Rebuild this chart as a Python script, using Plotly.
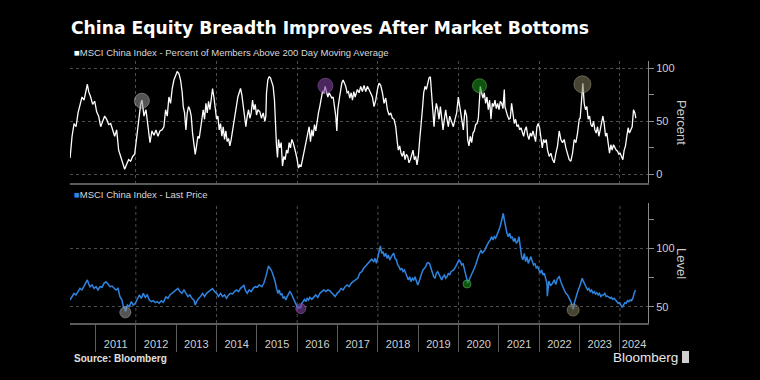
import plotly.graph_objects as go

# ---------------- data (decimal years) ----------------
breadth_year = [
2010.370,2010.419,2010.469,2010.518,2010.567,2010.617,2010.666,2010.716,2010.765,2010.798,2010.831,2010.881,2010.930,2010.980,
2011.029,2011.079,2011.128,2011.178,2011.227,2011.277,2011.326,2011.376,2011.426,2011.475,2011.525,2011.574,2011.624,2011.673,
2011.723,2011.772,2011.822,2011.871,2011.921,2011.971,2012.020,2012.070,2012.119,2012.152,2012.202,2012.251,2012.301,2012.351,
2012.400,2012.450,2012.499,2012.549,2012.598,2012.648,
2012.696,2012.737,2012.779,2012.820,2012.861,2012.902,2012.944,2012.985,2013.026,2013.068,2013.109,2013.150,2013.175,2013.208,
2013.241,2013.274,2013.307,2013.340,2013.373,2013.406,2013.439,2013.472,2013.505,2013.538,2013.571,2013.604,2013.637,2013.670,
2013.703,2013.737,2013.770,2013.803,2013.836,2013.869,2013.902,2013.935,2013.968,2014.001,2014.034,2014.067,2014.100,2014.133,
2014.166,2014.199,2014.232,2014.265,2014.298,2014.331,2014.364,2014.397,2014.430,2014.463,2014.496,2014.529,2014.562,2014.595,
2014.628,2014.661,2014.694,2014.728,2014.761,2014.794,2014.827,2014.860,2014.893,2014.926,2014.959,2014.992,2015.025,
2015.074,2015.115,2015.157,2015.198,2015.223,2015.239,2015.272,2015.305,2015.338,2015.371,2015.404,2015.437,2015.462,2015.487,
2015.512,2015.536,2015.569,2015.603,2015.636,2015.669,2015.702,2015.735,2015.768,2015.801,2015.834,2015.867,2015.900,2015.933,
2015.966,2015.999,2016.032,2016.065,2016.098,2016.131,2016.164,2016.197,2016.230,2016.263,2016.296,2016.329,2016.362,2016.395,
2016.428,2016.461,2016.494,2016.527,2016.560,2016.594,2016.627,2016.660,2016.693,2016.726,2016.759,2016.792,2016.825,2016.858,
2016.891,2016.924,2016.957,2016.982,2017.006,2017.039,2017.072,2017.105,2017.138,2017.171,2017.204,2017.237,2017.270,2017.304,
2017.337,2017.370,2017.403,2017.436,
2017.492,2017.534,2017.575,2017.616,2017.657,2017.699,2017.740,2017.781,2017.823,2017.864,2017.905,2017.947,2017.988,2018.029,
2018.070,2018.112,2018.153,2018.194,2018.236,2018.277,2018.318,2018.359,2018.401,2018.442,2018.483,2018.508,2018.541,2018.574,
2018.607,2018.640,2018.673,2018.706,2018.739,2018.772,2018.805,2018.838,2018.871,2018.904,2018.937,2018.970,2019.003,2019.037,
2019.070,2019.103,2019.136,2019.169,2019.202,2019.235,2019.268,2019.301,2019.334,2019.367,2019.392,2019.417,2019.450,2019.483,
2019.516,2019.549,2019.582,2019.615,2019.648,2019.681,2019.714,2019.747,2019.780,2019.813,
2019.870,2019.912,2019.953,2019.994,2020.035,2020.077,2020.118,2020.159,2020.201,2020.225,2020.258,2020.291,2020.325,2020.358,
2020.391,2020.424,2020.457,2020.490,2020.506,2020.523,2020.539,2020.572,2020.605,2020.638,2020.671,2020.704,2020.737,2020.770,
2020.803,2020.836,2020.870,2020.903,2020.936,2020.969,2021.002,2021.035,2021.068,2021.101,2021.134,2021.150,2021.183,2021.216,
2021.249,2021.282,2021.315,2021.348,2021.381,2021.415,2021.448,2021.481,2021.514,2021.547,2021.580,2021.613,2021.646,2021.679,
2021.712,2021.745,2021.778,2021.811,2021.844,2021.877,2021.910,2021.943,2021.976,2022.009,2022.042,2022.075,2022.108,2022.141,
2022.174,
2022.206,2022.247,2022.289,2022.330,2022.371,2022.412,2022.454,2022.495,2022.536,2022.578,2022.619,2022.660,2022.702,2022.743,
2022.784,2022.825,2022.867,2022.908,2022.949,2022.991,2023.015,2023.048,2023.081,2023.114,2023.147,2023.180,2023.213,2023.246,
2023.280,2023.313,2023.346,2023.379,2023.412,2023.445,2023.478,2023.511,2023.544,2023.577,2023.610,2023.643,2023.676,2023.709,
2023.742,2023.775,2023.808,2023.841,2023.874,2023.907,2023.940,2023.973,2024.006,2024.039,2024.072,2024.105,2024.138,2024.171,
2024.204,2024.237,2024.270,2024.303,2024.337,2024.370,2024.395]

breadth_pct = [
15.6,36,48,45,58,67,73,70,81,85,78,73,66,69,
59,55,45,50,55,52,47,48,41,36,42,23,17,11,
5,9.7,14,12.5,17,19,33,52,66,70,55,61,45,30,
41,37,42,36,41,42,
45,61,55,73,67,81,89,94,97,95,89,77,64,58,
42,58,64,61,55,39,30,19,27,36,34,45,52,61,
52,67,58,69,61,73,81,73,61,52,55,42,48,36,
45,33,41,31,34,27,33,42,48,55,64,73,77,81,
75,64,58,45,55,61,53,58,70,61,66,56,61,
59,53,58,50,55,77,89,92,91,87,83,70,45,27,
16,33,25,30,8,17,14,23,20,30,25,33,30,23,
20,14,6,9,8,14,20,27,30,39,45,31,42,36,
47,41,52,58,64,73,78,77,83,78,73,77,75,72,
73,64,55,41,61,70,80,86,89,86,83,77,78,72,
77,70,78,73,
80,77,83,78,84,78,83,80,77,73,64,70,80,86,
84,77,67,72,61,56,58,53,52,45,30,23,27,20,
17,22,14,19,17,11,14,20,23,14,17,9,17,33,
45,61,77,83,80,86,91,92,77,61,45,58,67,61,
52,64,55,42,52,61,52,45,55,52,
45,52,58,73,64,52,42,61,55,33,27,36,30,39,
41,47,48,53,67,78,83,77,72,77,67,73,61,70,
52,67,64,70,62,67,61,69,67,62,80,64,58,55,
52,53,67,55,48,52,45,47,42,44,39,36,42,45,
37,33,39,36,41,34,31,45,48,44,36,25,33,30,
33,
23,17,20,14,11,20,27,41,33,30,33,25,20,14,
12.5,20,33,30,39,52,53,67,86,67,61,64,52,55,
47,45,50,42,39,45,36,42,48,55,48,36,39,30,
20,28,23,28,25,23,22,19,20,17,14,23,27,36,
44,39,42,45,61,58,53]

price_year = [
2010.369,2010.418,2010.468,2010.517,2010.567,2010.616,2010.666,2010.715,2010.765,2010.798,2010.831,2010.864,2010.914,2010.963,
2011.013,2011.062,2011.112,2011.161,2011.211,2011.260,2011.310,2011.359,2011.409,2011.459,2011.508,2011.558,2011.607,2011.657,
2011.690,2011.723,2011.748,2011.789,2011.838,2011.888,2011.937,2011.987,2012.037,2012.086,2012.136,2012.185,2012.235,2012.284,
2012.334,2012.383,2012.433,2012.483,2012.532,2012.582,2012.631,2012.681,2012.746,2012.795,2012.845,2012.894,2012.944,2012.993,
2013.043,2013.092,2013.142,2013.192,2013.241,2013.291,2013.340,2013.390,2013.439,2013.472,2013.505,2013.555,2013.604,2013.654,
2013.703,2013.753,2013.803,2013.852,2013.902,2013.951,2014.001,2014.050,2014.100,2014.149,2014.199,2014.249,2014.298,2014.348,
2014.397,2014.447,2014.496,2014.546,2014.595,2014.645,2014.678,2014.711,2014.761,2014.810,2014.860,2014.909,2014.959,2015.008,
2015.058,2015.124,2015.173,2015.223,2015.256,2015.289,2015.322,2015.355,2015.388,2015.421,2015.454,2015.487,2015.520,2015.553,
2015.586,2015.619,2015.652,2015.685,2015.718,2015.751,2015.784,2015.817,2015.850,2015.883,2015.916,2015.949,2015.982,2016.015,
2016.048,2016.081,2016.115,2016.148,2016.181,2016.214,2016.247,2016.280,2016.313,2016.362,2016.412,2016.461,2016.511,2016.560,
2016.610,2016.660,2016.709,2016.759,2016.808,2016.858,2016.891,2016.940,2016.990,2017.039,2017.089,2017.138,2017.188,2017.238,
2017.287,2017.337,2017.386,2017.436,2017.501,2017.550,2017.600,2017.649,2017.699,2017.748,2017.798,2017.847,2017.897,2017.930,
2017.963,2017.996,2018.029,2018.062,2018.095,2018.128,2018.161,2018.194,2018.227,2018.260,2018.293,2018.326,2018.359,2018.392,
2018.426,2018.459,2018.492,2018.525,2018.558,2018.591,2018.624,2018.657,2018.690,2018.723,2018.756,2018.789,2018.822,2018.855,
2018.888,2018.921,2018.954,2018.987,2019.020,2019.053,2019.086,2019.119,2019.152,2019.185,2019.218,2019.251,2019.284,2019.317,
2019.350,2019.383,2019.417,2019.450,2019.483,2019.516,2019.549,2019.582,2019.615,2019.648,2019.681,2019.714,2019.747,2019.780,
2019.813,2019.879,2019.928,2019.978,2020.011,2020.044,2020.077,2020.110,2020.143,2020.176,2020.209,2020.225,2020.258,2020.291,
2020.325,2020.358,2020.391,2020.424,2020.457,2020.490,2020.523,2020.556,2020.589,2020.622,2020.655,2020.688,2020.721,2020.754,
2020.787,2020.820,2020.853,2020.886,2020.919,2020.952,2020.985,2021.018,2021.051,2021.084,2021.109,2021.134,2021.167,2021.200,
2021.233,2021.266,2021.299,2021.332,2021.365,2021.398,2021.431,2021.464,2021.497,2021.530,2021.563,2021.596,2021.629,2021.662,
2021.695,2021.728,2021.761,2021.794,2021.828,2021.861,2021.894,2021.927,2021.960,2021.993,2022.026,2022.059,2022.092,2022.125,
2022.158,2022.191,2022.200,2022.215,2022.240,2022.280,2022.330,2022.370,2022.410,2022.450,2022.495,2022.536,2022.578,2022.619,
2022.660,2022.702,2022.743,2022.784,2022.817,2022.842,2022.867,2022.900,2022.933,2022.966,2022.999,2023.032,2023.065,2023.098,
2023.131,2023.164,2023.197,2023.230,2023.263,2023.296,2023.329,2023.362,2023.395,2023.428,2023.461,2023.494,2023.527,2023.560,
2023.593,2023.626,2023.659,2023.692,2023.725,2023.758,2023.791,2023.825,2023.858,2023.891,2023.924,2023.957,2023.990,2024.023,
2024.056,2024.089,2024.122,2024.155,2024.188,2024.221,2024.254,2024.287,2024.320,2024.353,2024.386]

price_level = [
55.7,58.6,61.4,60,62.9,65.7,64.3,67.1,70,72.9,69.4,67.1,68.6,65.7,
67.1,64.3,67.1,66.6,70,71.4,69.4,67.1,67.7,65.7,64.3,65.7,58.6,55.7,
50,48.6,46,51.4,50,54.3,51.4,52.9,57.1,60,57.1,61.4,58,60,
55.7,54.3,55.1,53.4,54.3,52.9,55.1,53.7,58.3,57.1,60,61.4,62.9,64.3,
65.7,62.9,61.4,64.3,61.4,58.6,60,57.1,55.7,51.4,54.3,57.1,58.6,61.4,
58.6,61.4,62.9,64.3,65.4,62.9,61.4,58.6,61.4,58.6,60,57.1,60,61.4,
60.9,62.9,64.3,62.9,65.7,67.1,68.6,64.3,61.4,64.3,62.9,65.7,67.1,66.6,
68.6,67.1,70,75.7,81.4,84.9,82.9,81.4,78.6,75.7,71.4,65.7,61.4,64.3,
60,61.4,57.1,58.6,55.7,58.6,61.4,62.9,61.4,58.6,55.7,54.3,51.4,48.6,
50,48.6,52.9,54.3,56.3,54.3,57.1,55.7,58,56.3,58.6,60,58,61.4,
62.9,64.3,62.9,64.3,63.7,61.4,60,58.6,61.4,62.9,65.7,64.3,67.1,68.6,
67.1,70,71.4,72.9,74.3,78.6,80,82.9,84.9,87.1,88.6,90.6,88.6,91.4,
87.1,92.9,98.6,102,95.7,97.1,92.9,95.7,91.4,94.3,90,92.9,94.3,95.7,
91.4,90,85.7,84.3,81.4,82.9,80,81.4,78.6,77.1,72.9,75.7,71.4,74.3,
72.9,75.7,71.4,68.6,71.4,75.7,78.6,81.4,82.9,84.3,87.1,87.7,86.6,82.9,
78.6,75.7,74.3,78.6,80,77.1,75.7,72.9,75.7,77.1,74.3,75.7,78.6,77.1,
80,81.4,84.3,87.1,90,88.6,85.7,87.1,82.9,78.6,72.9,70,72.9,75.7,
78.6,80,82.9,85.7,90,92.9,95.7,98.6,95.7,97.1,98.6,101.4,104.3,105.7,
107.1,110,107.1,110,108.6,111.4,112.9,117.1,121.4,127.1,130,124.3,117.1,112.9,
110,112.9,108.6,110,105.7,108.6,104.3,105.7,110,101.4,92.9,90,95.7,88.6,
92.9,87.1,90,92.9,88.6,85.7,87.1,82.9,84.3,81.4,78.6,81.4,77.1,78.6,
74.3,70,59,66,72,68,70,73,69,74,75.7,71.4,67.1,64.3,
61.4,60,57.1,54.3,50,47.7,52.9,57.1,61.4,64.3,67.1,71.4,74.3,71.4,
68.6,67.1,64.3,65.7,62.9,64.3,61.4,62.9,60.9,62,60,61.4,58.6,60,
60,61.4,58.6,59.1,58,57.1,58,56.3,57.1,55.7,54.3,52.9,53.4,51.4,
49.4,51.4,53.4,52.9,55.1,54.3,55.7,55.1,57.1,61.4,64.3]

# market-bottom markers
top_event_year = [2012.15, 2016.70, 2020.52, 2023.07]
top_event_pct = [69.5, 83.6, 83.6, 84.9]
bottom_event_year = [2011.74, 2016.09, 2020.21, 2022.84]
bottom_event_level = [45.1, 48.3, 69.4, 47.1]

year_labels = ["2011", "2012", "2013", "2014", "2015", "2016", "2017",
               "2018", "2019", "2020", "2021", "2022", "2023", "2024"]
year_label_pos = [2011.5, 2012.5, 2013.5, 2014.5, 2015.5, 2016.5, 2017.5,
                  2018.5, 2019.5, 2020.5, 2021.5, 2022.5, 2023.5, 2024.35]
year_ticks = list(range(2011, 2025))
grid_years = list(range(2012, 2025, 2))

# ---------------- style ----------------
FONT = "Liberation Sans, Arial, sans-serif"
TITLE_FONT = "DejaVu Sans, Liberation Sans, sans-serif"
GRID = "#4d4d4d"
AXIS = "#8a8a8a"
BASE = "#5c5c5c"
TICKTXT = "#cfcfcf"
X_RANGE = [2010.368, 2024.696]

event_fill = ["rgba(150,150,150,0.80)", "rgba(125,65,155,0.85)",
              "rgba(25,140,25,0.85)", "rgba(128,123,92,0.80)"]
event_edge = ["rgba(205,205,205,0.7)", "rgba(170,110,205,0.7)",
              "rgba(95,205,95,0.8)", "rgba(185,180,145,0.7)"]

fig = go.Figure()
fig.add_trace(go.Scatter(x=breadth_year, y=breadth_pct, mode="lines",
                         line=dict(color="#ffffff", width=1.3),
                         xaxis="x", yaxis="y", showlegend=False))
fig.add_trace(go.Scatter(x=top_event_year, y=top_event_pct, mode="markers",
                         marker=dict(size=[15, 15, 14, 17], color=event_fill,
                                     line=dict(color=event_edge, width=1)),
                         xaxis="x", yaxis="y", showlegend=False))
fig.add_trace(go.Scatter(x=price_year, y=price_level, mode="lines",
                         line=dict(color="#2f84e0", width=1.5),
                         xaxis="x2", yaxis="y2", showlegend=False))
fig.add_trace(go.Scatter(x=bottom_event_year, y=bottom_event_level, mode="markers",
                         marker=dict(size=[11, 10, 8, 12], color=event_fill,
                                     line=dict(color=event_edge, width=1)),
                         xaxis="x2", yaxis="y2", showlegend=False))

TOP_DOM = [0.5344, 1.0]
BOT_DOM = [0.0, 0.458]

fig.update_layout(
    width=760, height=380,
    margin=dict(l=70, r=112, t=61, b=57),
    paper_bgcolor="#000000", plot_bgcolor="#000000",
    font=dict(family=FONT, color=TICKTXT, size=11),
    xaxis=dict(domain=[0, 1], range=X_RANGE, anchor="y",
               showline=True, linecolor=BASE, linewidth=2,
               tickvals=grid_years, showticklabels=False, ticks="",
               showgrid=True, gridcolor=GRID, griddash="dot", gridwidth=1,
               zeroline=False),
    yaxis=dict(domain=TOP_DOM, range=[-8, 106.9], anchor="x", side="right",
               showline=True, linecolor=AXIS, linewidth=1,
               tickvals=[0, 50, 100], ticks="outside", ticklen=5, tickcolor=AXIS,
               minor=dict(tickvals=[25, 75], ticks="outside", ticklen=5, tickcolor=AXIS,
                          showgrid=False),
               showgrid=True, gridcolor=GRID, griddash="dot", gridwidth=1,
               zeroline=False, tickfont=dict(size=11, color=TICKTXT)),
    xaxis2=dict(domain=[0, 1], range=X_RANGE, anchor="y2",
                showline=True, linecolor=BASE, linewidth=2,
                tickvals=year_label_pos, ticktext=year_labels, ticks="",
                minor=dict(tickvals=year_ticks, ticks="outside", ticklen=27,
                           tickcolor=BASE, tickwidth=1, showgrid=False),
                ticklabelstandoff=10,
                showgrid=False, zeroline=False,
                tickfont=dict(size=11, color=TICKTXT)),
    yaxis2=dict(domain=BOT_DOM, range=[36, 138.8], anchor="x2", side="right",
                showline=True, linecolor=AXIS, linewidth=1,
                tickvals=[50, 100], ticks="outside", ticklen=5, tickcolor=AXIS,
                minor=dict(tickvals=[75, 125], ticks="outside", ticklen=5, tickcolor=AXIS,
                           showgrid=False),
                showgrid=True, gridcolor=GRID, griddash="dot", gridwidth=1,
                zeroline=False, tickfont=dict(size=11, color=TICKTXT)),
)

# vertical dotted gridlines in the lower panel
for gy in grid_years:
    fig.add_shape(type="line", xref="x2", yref="y2 domain", x0=gy, x1=gy, y0=0, y1=1,
                  line=dict(color=GRID, width=1, dash="dot"), layer="below")

def py(px):  # pixel row -> paper y
    return (323 - px) / 262.0

def pxx(px):  # pixel col -> paper x
    return (px - 70) / 578.0

ann = [
    dict(text="<b>China Equity Breadth Improves After Market Bottoms</b>",
         x=pxx(69), y=py(28), font=dict(size=17.2, color="#ffffff", family=TITLE_FONT)),
    dict(text="<span style='color:#ffffff'>■</span>MSCI China Index - Percent of Members Above 200 Day Moving Average",
         x=pxx(72), y=py(52), font=dict(size=9.5, color="#d8d8d8", family=FONT)),
    dict(text="<span style='color:#2f84e0'>■</span>MSCI China Index - Last Price",
         x=pxx(72), y=py(194), font=dict(size=9.5, color="#d8d8d8", family=FONT)),
    dict(text="<b>Source: Bloomberg</b>", x=pxx(72), y=py(358),
         font=dict(size=10, color="#e0e0e0", family=FONT)),
    dict(text="Bloomberg", x=pxx(611), y=py(357),
         font=dict(size=13.5, color="#e8e8e8", family=FONT)),
]
for a in ann:
    fig.add_annotation(xref="paper", yref="paper", xanchor="left", yanchor="middle",
                       showarrow=False, **a)

for txt, ycen in [("Percent", 122), ("Level", 263)]:
    fig.add_annotation(text=txt, xref="paper", yref="paper", x=pxx(682), y=py(ycen),
                       xanchor="center", yanchor="middle", textangle=90, showarrow=False,
                       font=dict(size=13, color="#c8c8c8", family=FONT))

# small logo mark next to "Bloomberg"
fig.add_shape(type="rect", xref="paper", yref="paper",
              x0=pxx(682), x1=pxx(689), y0=py(363), y1=py(351),
              fillcolor="#d0d0d0", line=dict(width=0))

fig.write_html("out.html",
               config={"displayModeBar": False},
               post_script="document.body.style.margin='0';document.body.style.background='#000';")
